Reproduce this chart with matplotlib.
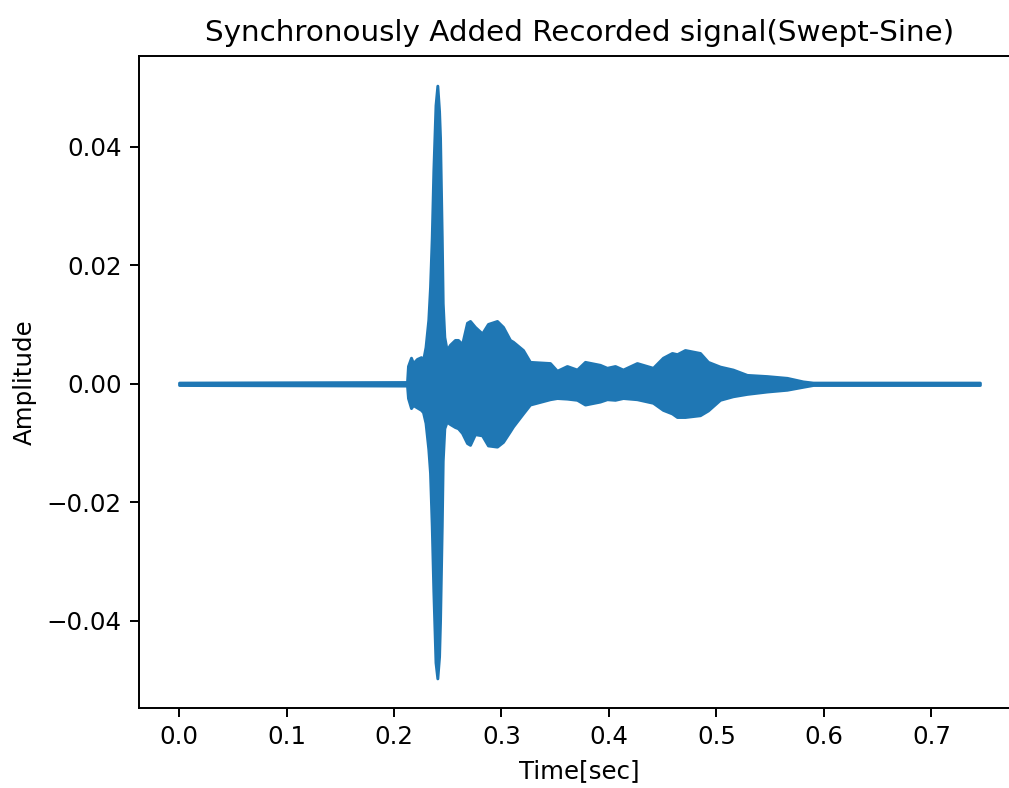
import numpy as np
import matplotlib
matplotlib.use("Agg")
import matplotlib.pyplot as plt

# Envelope of the synchronously added swept-sine recording (seconds / amplitude)
t_sec = [0.0000, 0.2121, 0.2130, 0.2158, 0.2177, 0.2214, 0.2251, 0.2270,
         0.2293, 0.2319, 0.2335, 0.2351, 0.2366, 0.2386, 0.2403, 0.2419,
         0.2428, 0.2444, 0.2453, 0.2468, 0.2490, 0.2521, 0.2567, 0.2595,
         0.2633, 0.2679, 0.2707, 0.2753, 0.2819, 0.2874, 0.2958, 0.3014,
         0.3079, 0.3107, 0.3200, 0.3265, 0.3451, 0.3516, 0.3609, 0.3702,
         0.3777, 0.3916, 0.3981, 0.4056, 0.4130, 0.4260, 0.4409, 0.4502,
         0.4586, 0.4633, 0.4707, 0.4847, 0.4921, 0.5033, 0.5153, 0.5284,
         0.5470, 0.5656, 0.5805, 0.5898, 0.7451]
env_upper = [0.0002, 0.0003, 0.0030, 0.0044, 0.0035, 0.0042, 0.0045, 0.0040,
             0.0062, 0.0108, 0.0163, 0.0247, 0.0360, 0.0470, 0.0503, 0.0460,
             0.0415, 0.0247, 0.0136, 0.0079, 0.0057, 0.0066, 0.0074, 0.0074,
             0.0067, 0.0103, 0.0106, 0.0096, 0.0085, 0.0101, 0.0106, 0.0096,
             0.0074, 0.0071, 0.0057, 0.0037, 0.0035, 0.0022, 0.0030, 0.0024,
             0.0037, 0.0032, 0.0027, 0.0030, 0.0024, 0.0035, 0.0027, 0.0044,
             0.0052, 0.0050, 0.0057, 0.0052, 0.0037, 0.0029, 0.0024, 0.0015,
             0.0013, 0.0010, 0.0004, 0.0002, 0.0002]
env_lower = [-0.0002, -0.0003, -0.0024, -0.0041, -0.0036, -0.0040, -0.0044, -0.0048,
             -0.0066, -0.0110, -0.0150, -0.0240, -0.0350, -0.0470, -0.0497, -0.0460,
             -0.0400, -0.0240, -0.0130, -0.0075, -0.0064, -0.0068, -0.0073, -0.0075,
             -0.0083, -0.0100, -0.0103, -0.0085, -0.0087, -0.0104, -0.0106, -0.0098,
             -0.0080, -0.0072, -0.0050, -0.0035, -0.0026, -0.0024, -0.0025, -0.0027,
             -0.0035, -0.0030, -0.0026, -0.0027, -0.0024, -0.0026, -0.0032, -0.0044,
             -0.0050, -0.0056, -0.0056, -0.0053, -0.0045, -0.0027, -0.0021, -0.0017,
             -0.0013, -0.0010, -0.0005, -0.0002, -0.0002]

DPI = 176
fig = plt.figure(figsize=(1009 / DPI, 788 / DPI), dpi=DPI)
ax = fig.add_axes([0.1378, 0.1015, 0.873, 0.8274])

color = "#1f77b4"
ax.fill_between(t_sec, env_lower, env_upper, facecolor=color, edgecolor=color, lw=1.2)

ax.set_title("Synchronously Added Recorded signal(Swept-Sine)", fontsize=12)
ax.set_xlabel("Time[sec]")
ax.set_ylabel("Amplitude")
ax.set_yticks([-0.04, -0.02, 0.0, 0.02, 0.04])

fig.savefig("out.png", dpi=DPI)
